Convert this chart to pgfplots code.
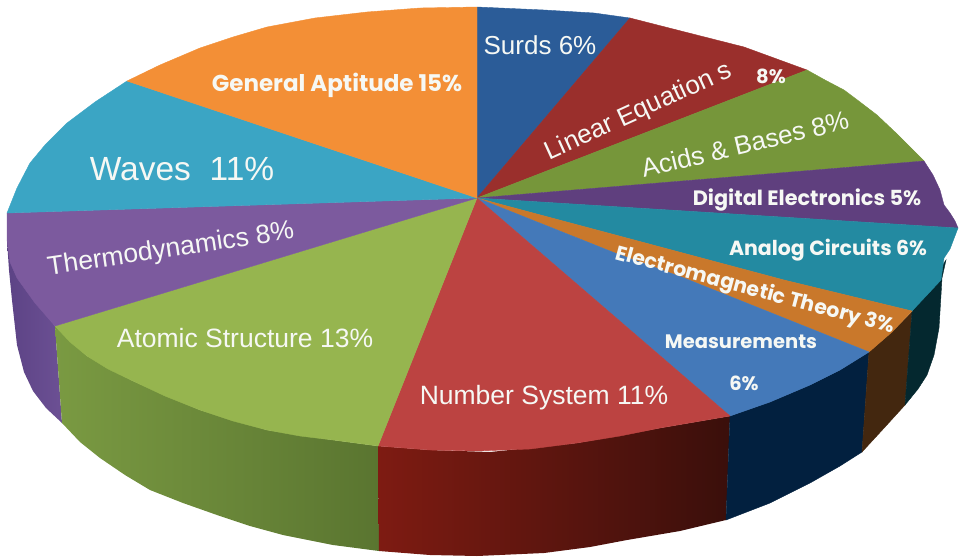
\documentclass[border=0pt]{standalone}
\usepackage{pgfplots}
\pgfplotsset{compat=1.18}
\usepackage{fontspec}
\setmainfont{Liberation Sans}
\newfontfamily\boldlabel{Poppins}[UprightFont=* Bold]
\definecolor{surds}{HTML}{2B5C98}
\definecolor{linear}{HTML}{9A2F2C}
\definecolor{acids}{HTML}{76963A}
\definecolor{digital}{HTML}{5F3F7E}
\definecolor{analog}{HTML}{238AA1}
\definecolor{emt}{HTML}{C9782B}
\definecolor{meas}{HTML}{4479B9}
\definecolor{number}{HTML}{BC4341}
\definecolor{atomic}{HTML}{96B54F}
\definecolor{thermo}{HTML}{7C5A9E}
\definecolor{waves}{HTML}{3BA5C4}
\definecolor{general}{HTML}{F38F36}
\definecolor{labeltext}{HTML}{F6F8F4}
\definecolor{navyrim}{HTML}{02203F}
\definecolor{brownrim}{HTML}{43270F}
\definecolor{tealrim}{HTML}{04282F}
\definecolor{thermoA}{HTML}{5C4385}
\definecolor{thermoB}{HTML}{6C5094}
\definecolor{atomicA}{HTML}{7A9A42}
\definecolor{atomicB}{HTML}{5A7530}
\definecolor{numberA}{HTML}{7E1B12}
\definecolor{numberB}{HTML}{5C0A08}
\definecolor{numberC}{HTML}{3A0F0B}
% pixel-sized label fonts
\newcommand{\lbl}[1]{\fontsize{#1}{#1}\selectfont}
\pgfplotsset{
  slice/.style={draw=#1,fill=#1,line width=0.4pt},
}
\begin{document}
\begin{tikzpicture}[x=1pt,y=1pt]
\useasboundingbox (0,0) rectangle (967pt,558pt);
\begin{axis}[
  at={(0,0)},anchor=south west,
  width=967pt,height=558pt,scale only axis,
  xmin=0,xmax=967,ymin=0,ymax=558,y dir=reverse,
  hide axis,clip=true,
  every axis plot/.append style={no markers,sharp plot},
  nodes={text=labeltext,inner sep=0pt},
]
% rim of the disc, left to right
\addplot[draw=none,left color=thermoA,right color=thermoB] coordinates {
 (7,240)(9,270)(12,300)(17,345)(24,372)(33,391)(46,408)(62,423)(55,326)(30,295)(7,240)};
\addplot[draw=none,left color=atomicA,right color=atomicB] coordinates {
 (55,326)(62,423)(80,442)(100,458)(125,475)(150,490)(183,503)(217,515)(250,526)(283,535)(333,545)(379,551)(378,446)(333,440)(267,430)(200,410)(133,381)(87,356)(55,326)};
\addplot[draw=none,left color=numberA,middle color=numberB,right color=numberC] coordinates {
 (378,446)(379,551)(430,555)(477,556)(544,553)(590,547)(627,540)(680,531)(726,520)(730,416)(660,428)(577,443)(490,452)(430,450)(378,446)};
\addplot[slice=navyrim] coordinates {
 (730,416)(726,520)(770,503)(810,483)(840,466)(862,452)(869,352)(840,370)(810,385)(770,402)(730,416)};
\addplot[slice=brownrim] coordinates {
 (869,352)(862,452)(885,427)(905,405)(912,312)(892,332)(869,352)};
\addplot[slice=tealrim] coordinates {
 (912,312)(905,405)(918,389)(927,375)(934,355)(939,328)(941,295)(942,278)(946,260)(930,285)(912,312)};
% top faces, clockwise from twelve o'clock
\addplot[slice=surds] coordinates {(477,198)(477,7)(544,10)(594,13)(630,18)(477,198)};
\addplot[slice=linear] coordinates {(477,198)(630,18)(677,30)(744,47)(807,70)(477,198)};
\addplot[slice=acids] coordinates {(477,198)(807,70)(825,80)(844,90)(860,102)(877,115)(895,132)(910,147)(924,161)(477,198)};
\addplot[slice=digital] coordinates {(477,198)(924,161)(933,175)(940,190)(944,205)(950,213)(955,221)(958,228)(477,198)};
\addplot[slice=analog] coordinates {(477,198)(958,228)(950,249)(944,258)(941,280)(927,295)(912,311)(784,280)(477,198)};
\addplot[slice=emt] coordinates {(477,198)(784,280)(912,311)(892,332)(869,352)(684,278)(615,253)(477,198)};
\addplot[slice=meas] coordinates {(477,198)(615,253)(684,278)(869,352)(840,370)(810,385)(770,402)(730,416)(477,198)};
\addplot[slice=number] coordinates {(477,198)(730,416)(660,428)(620,436)(577,443)(530,449)(477,451)(430,450)(378,446)(477,198)};
\addplot[slice=atomic] coordinates {(477,198)(378,446)(333,440)(300,436)(267,430)(233,421)(200,410)(165,396)(133,381)(108,369)(87,356)(70,342)(55,326)(477,198)};
\addplot[slice=thermo] coordinates {(477,198)(55,326)(35,303)(17,278)(10,262)(7,240)(7,213)(477,198)};
\addplot[slice=waves] coordinates {(477,198)(7,213)(17,188)(30,163)(45,145)(67,123)(95,102)(127,81)(477,198)};
\addplot[slice=general] coordinates {(477,198)(127,81)(160,65)(200,48)(233,37)(267,27)(315,18)(367,12)(420,8)(477,7)(477,198)};
% labels
\node at (axis cs:540,45) {\lbl{26}Surds 6\%};
\node[rotate=24.5] at (axis cs:639,112) {\lbl{26}Linear Equation s};
\node at (axis cs:771,76) {\lbl{19.5}\boldlabel 8\%};
\node[rotate=13.5] at (axis cs:745,144) {\lbl{26}Acids \& Bases 8\%};
\node at (axis cs:807,200) {\lbl{20.8}\boldlabel Digital Electronics 5\%};
\node at (axis cs:828,250) {\lbl{20.5}\boldlabel Analog Circuits 6\%};
\node[rotate=-15] at (axis cs:755,291) {\lbl{20.5}\boldlabel Electromagnetic Theory 3\%};
\node at (axis cs:741,342) {\lbl{19.5}\boldlabel Measurements};
\node at (axis cs:744,383) {\lbl{19.5}\boldlabel 6\%};
\node at (axis cs:544,398) {\lbl{26.5}Number System 11\%};
\node at (axis cs:245,338) {\lbl{26.5}Atomic Structure 13\%};
\node[rotate=8.5] at (axis cs:171,250) {\lbl{26.5}Thermodynamics 8\%};
\node at (axis cs:182,169) {\lbl{33.5}Waves\ \ 11\%};
\node at (axis cs:337,85) {\lbl{23}\boldlabel General Aptitude 15\%};
\end{axis}
\end{tikzpicture}
\end{document}
